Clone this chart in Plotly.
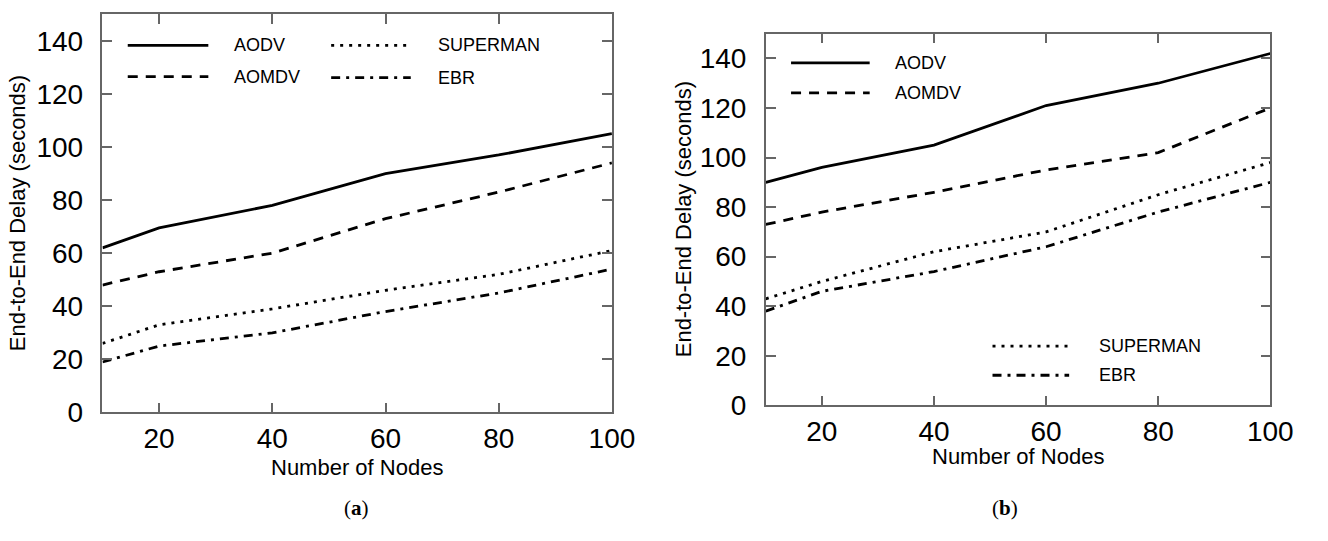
import plotly.graph_objects as go

W, H = 1328, 541

nodes = [10, 20, 40, 60, 80, 100]
series_names = ["AODV", "AOMDV", "SUPERMAN", "EBR"]

# Panel (a)
a_aodv = [62, 69.5, 78, 90, 97, 105]
a_aomdv = [48, 53, 60, 73, 83, 94]
a_superman = [26, 33, 39, 46, 52, 61]
a_ebr = [19, 25, 30, 38, 45, 54]

# Panel (b)
b_aodv = [90, 96, 105, 121, 130, 142]
b_aomdv = [73, 78, 86, 95, 102, 120]
b_superman = [43, 50, 62, 70, 85, 98]
b_ebr = [38, 46, 54, 64, 78, 90]

x_ticks = [20, 40, 60, 80, 100]
y_ticks = [0, 20, 40, 60, 80, 100, 120, 140]

dashes = {"AODV": "solid", "AOMDV": "10px,8px", "SUPERMAN": "3px,6px", "EBR": "9px,6px,3px,6px"}

def px(x):
    return x / W

def py(y):
    return 1 - y / H

fig = go.Figure()

panels = [
    ("x", "y", [a_aodv, a_aomdv, a_superman, a_ebr]),
    ("x2", "y2", [b_aodv, b_aomdv, b_superman, b_ebr]),
]
for xa, ya, data in panels:
    for name, vals in zip(series_names, data):
        fig.add_trace(go.Scatter(x=nodes, y=vals, mode="lines", name=name, xaxis=xa, yaxis=ya,
                                 showlegend=False,
                                 line=dict(color="black", width=2.8, dash=dashes[name])))

font = "Liberation Sans, Arial, sans-serif"
ax_common = dict(showgrid=False, zeroline=False, showline=True, linecolor="#666", linewidth=1.5,
                 mirror="allticks", ticks="inside", ticklen=10, tickcolor="#666", tickwidth=1.5,
                 tickfont=dict(family=font, size=28, color="black"))

fig.update_layout(
    width=W, height=H, margin=dict(l=0, r=0, t=0, b=0),
    paper_bgcolor="white", plot_bgcolor="white",
    xaxis=dict(domain=[px(104.3), px(622.7)], range=[10, 100], tickvals=x_ticks, anchor="y", **ax_common),
    yaxis=dict(domain=[py(425), py(14.7)], range=[0, 150], tickvals=y_ticks, anchor="x",
               ticklabelstandoff=12, **ax_common),
    xaxis2=dict(domain=[px(779.3), px(1292.7)], range=[10, 100], tickvals=x_ticks, anchor="y2", **ax_common),
    yaxis2=dict(domain=[py(417.7), py(34.7)], range=[0, 150], tickvals=y_ticks, anchor="x2",
                ticklabelstandoff=12, **ax_common),
)

annotations = []
shapes = []

def legend_item(x0, x1, y, tx, name):
    shapes.append(dict(type="line", xref="paper", yref="paper", x0=px(x0), x1=px(x1), y0=py(y), y1=py(y),
                       line=dict(color="black", width=2.8, dash=dashes[name])))
    annotations.append(dict(text=name, x=px(tx), y=py(y), xref="paper", yref="paper", showarrow=False,
                            xanchor="left", yanchor="middle", font=dict(family=font, size=18, color="black")))

# panel (a) legend
legend_item(130, 212, 46.7, 236, "AODV")
legend_item(130, 212, 79, 236, "AOMDV")
legend_item(337, 418, 46.7, 444, "SUPERMAN")
legend_item(337, 418, 80, 444, "EBR")
# panel (b) legend
legend_item(805, 885, 64.7, 909, "AODV")
legend_item(805, 885, 95.7, 909, "AOMDV")
legend_item(1010, 1088, 356.7, 1116, "SUPERMAN")
legend_item(1010, 1088, 386.7, 1116, "EBR")

# axis titles
for cx, cy in [(363, 482), (1036, 470)]:
    annotations.append(dict(text="Number of Nodes", x=px(cx), y=py(cy), xref="paper", yref="paper",
                            showarrow=False, xanchor="center", yanchor="middle",
                            font=dict(family=font, size=22, color="black")))
for cx, cy in [(18, 220), (695, 226)]:
    annotations.append(dict(text="End-to-End Delay (seconds)", x=px(cx), y=py(cy), xref="paper", yref="paper",
                            showarrow=False, xanchor="center", yanchor="middle", textangle=-90,
                            font=dict(family=font, size=22, color="black")))
# captions
for cx, letter in [(363, "a"), (1023, "b")]:
    annotations.append(dict(text="(<b>%s</b>)" % letter, x=px(cx), y=py(523), xref="paper", yref="paper",
                            showarrow=False, xanchor="center", yanchor="middle",
                            font=dict(family="Liberation Serif, Times New Roman, serif", size=21, color="black")))

fig.update_layout(annotations=annotations, shapes=shapes)
fig.write_html("out.html",
               post_script="document.body.style.margin='0';document.body.style.overflow='hidden';")
